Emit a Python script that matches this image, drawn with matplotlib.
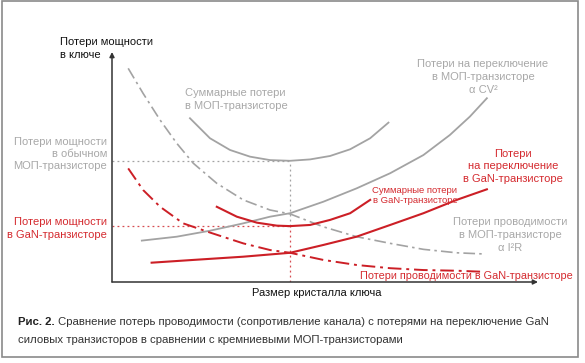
import matplotlib.pyplot as plt
from matplotlib.patches import Rectangle

# Данные кривых (размер кристалла -> потери), условные единицы 0..10
mos_cond_x = [0.38, 0.73, 1.13, 1.52, 1.91, 2.46, 3.08, 3.71, 4.18, 4.96, 5.74, 6.53, 7.31, 8.09, 8.72]
mos_cond_y = [9.29, 8.20, 7.04, 6.03, 5.16, 4.29, 3.57, 3.13, 2.96, 2.40, 1.97, 1.68, 1.42, 1.27, 1.22]

mos_total_x = [1.83, 2.30, 2.77, 3.24, 3.71, 4.18, 4.65, 5.12, 5.59, 6.06, 6.49]
mos_total_y = [7.12, 6.25, 5.74, 5.45, 5.30, 5.27, 5.33, 5.48, 5.77, 6.25, 6.93]

mos_sw_x = [0.70, 1.52, 2.30, 3.08, 3.71, 4.18, 4.96, 5.74, 6.53, 7.31, 7.93, 8.40, 8.80]
mos_sw_y = [1.80, 1.97, 2.23, 2.55, 2.84, 2.99, 3.49, 4.07, 4.73, 5.52, 6.39, 7.19, 7.99]

gan_cond_x = [0.38, 0.73, 1.13, 1.67, 2.30, 3.08, 3.71, 4.18, 4.96, 5.74, 6.53, 7.31, 8.09, 8.64]
gan_cond_y = [4.94, 4.00, 3.27, 2.55, 2.15, 1.68, 1.39, 1.27, 0.96, 0.74, 0.60, 0.52, 0.49, 0.45]

gan_total_x = [2.46, 2.93, 3.40, 3.87, 4.18, 4.65, 5.12, 5.59, 6.06]
gan_total_y = [3.27, 2.84, 2.58, 2.45, 2.43, 2.48, 2.70, 2.99, 3.57]

gan_sw_x = [0.93, 1.91, 3.08, 4.18, 4.96, 5.74, 6.53, 7.31, 8.09, 8.80]
gan_sw_y = [0.84, 0.96, 1.10, 1.27, 1.61, 1.97, 2.48, 2.99, 3.57, 4.03]

# оптимальный размер и минимумы суммарных потерь
opt_size = 4.18
mos_min = 5.27
gan_min = 2.43

GRAY = "#a3a3a3"
GRAY_TXT = "#a8a8a8"
RED = "#cc1f26"
RED_TXT = "#d42a2f"
DASHDOT = (0, (7, 2.5, 1.5, 2.5))
DOTS = (0, (1.5, 2.5))

W, H = 585, 363
plt.rcParams["font.family"] = ["Liberation Sans", "DejaVu Sans"]

fig = plt.figure(figsize=(W / 100, H / 100), dpi=100)


def px(x, y):
    # пиксели -> доли фигуры
    return x / W, 1 - y / H


ax = fig.add_axes([112 / W, (H - 282) / H, 426 / W, 230 / H])
ax.set_xlim(0, 10)
ax.set_ylim(0, 10)
ax.axis("off")

# оси со стрелками
for end in [(0, 1), (1, 0)]:
    ax.annotate("", xy=end, xytext=(0, 0), xycoords="axes fraction",
                arrowprops=dict(arrowstyle="-|>", color="#333333", lw=1.1,
                                mutation_scale=7, shrinkA=0, shrinkB=0))

# пунктирные направляющие
ax.plot([0, opt_size], [mos_min, mos_min], ls=DOTS, color=GRAY, lw=0.9)
ax.plot([0, opt_size], [gan_min, gan_min], ls=DOTS, color=RED, lw=0.9, alpha=0.8)
ax.plot([opt_size, opt_size], [gan_min, mos_min], ls=DOTS, color=GRAY, lw=0.9)
ax.plot([opt_size, opt_size], [0, gan_min], ls=DOTS, color=RED, lw=0.9, alpha=0.8)

# кривые МОП
ax.plot(mos_cond_x, mos_cond_y, ls=DASHDOT, color=GRAY, lw=1.2)
ax.plot(mos_total_x, mos_total_y, color=GRAY, lw=1.3, solid_joinstyle="round")
ax.plot(mos_sw_x, mos_sw_y, color=GRAY, lw=1.3, solid_joinstyle="round")

# кривые GaN
ax.plot(gan_cond_x, gan_cond_y, ls=DASHDOT, color=RED, lw=1.4)
ax.plot(gan_total_x, gan_total_y, color=RED, lw=1.5, solid_joinstyle="round")
ax.plot(gan_sw_x, gan_sw_y, color=RED, lw=1.5, solid_joinstyle="round")

fs = 8
ls = 1.35
fig.text(*px(60, 37), "Потери мощности\nв ключе", fontsize=fs, color="#111111",
         ha="left", va="top", linespacing=ls)
fig.text(*px(185, 88), "Суммарные потери\nв МОП-транзисторе", fontsize=fs,
         color=GRAY_TXT, ha="left", va="top", linespacing=ls)
fig.text(*px(483, 59), "Потери на переключение\nв МОП-транзисторе\nα CV²",
         fontsize=fs, color=GRAY_TXT, ha="center", va="top", linespacing=ls,
         multialignment="center")
fig.text(*px(107, 137), "Потери мощности\nв обычном\nМОП-транзисторе",
         fontsize=fs, color=GRAY_TXT, ha="right", va="top", linespacing=1.25,
         multialignment="right")
fig.text(*px(107, 217), "Потери мощности\nв GaN-транзисторе", fontsize=fs,
         color=RED_TXT, ha="right", va="top", linespacing=ls,
         multialignment="right")
fig.text(*px(513, 149), "Потери\nна переключение\nв GaN-транзисторе",
         fontsize=fs, color=RED_TXT, ha="center", va="top", linespacing=1.3,
         multialignment="center")
fig.text(*px(415, 186), "Суммарные потери\nв GaN-транзисторе", fontsize=6.8,
         color=RED_TXT, ha="center", va="top", linespacing=1.15,
         multialignment="center")
fig.text(*px(510, 217), "Потери проводимости\nв МОП-транзисторе\nα I²R",
         fontsize=fs, color=GRAY_TXT, ha="center", va="top", linespacing=ls,
         multialignment="center")
fig.text(*px(360, 276), "Потери проводимости в GaN-транзисторе", fontsize=7.85,
         color=RED_TXT, ha="left", va="center")
fig.text(*px(317, 293), "Размер кристалла ключа", fontsize=fs, color="#111111",
         ha="center", va="center")

# подпись
cap_fs = 8.2
fig.text(*px(18, 322), "Рис. 2.", fontsize=cap_fs, fontweight="bold",
         color="#222222", ha="left", va="center")
fig.text(*px(58, 322),
         "Сравнение потерь проводимости (сопротивление канала) с потерями на переключение GaN",
         fontsize=cap_fs, color="#333333", ha="left", va="center")
fig.text(*px(18, 340), "силовых транзисторов в сравнении с кремниевыми МОП-транзисторами",
         fontsize=cap_fs, color="#333333", ha="left", va="center")

# рамка
x0, y0 = px(2, 357)
x1, y1 = px(578, 1)
fig.patches.append(Rectangle((x0, y0), x1 - x0, y1 - y0, transform=fig.transFigure,
                             fill=False, edgecolor="#8a8a8a", lw=1.2))

fig.savefig("out.png", dpi=100)
